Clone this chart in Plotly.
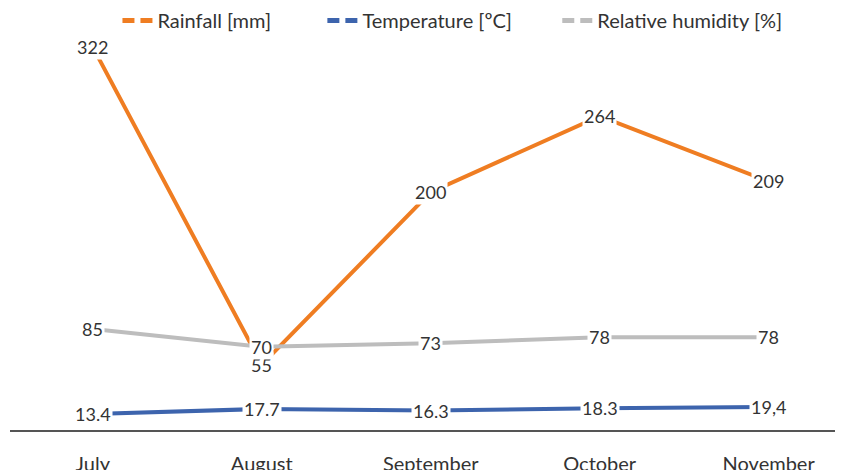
import plotly.graph_objects as go

months = ["July", "August", "September", "October", "November"]
rainfall = [322, 55, 200, 264, 209]
temperature = [13.4, 17.7, 16.3, 18.3, 19.4]
humidity = [85, 70, 73, 78, 78]
temperature_labels = ["13.4", "17.7", "16.3", "18.3", "19,4"]

_COLORS = {
    "rain": "#ef7d22",
    "temp": "#3d64ad",
    "hum": "#bdbdbd",
    "text": "#333333",
    "axis": "#555555",
}
FONT = "Lato"

series = [
    ("Rainfall [mm]", rainfall, [str(v) for v in rainfall], _COLORS["rain"]),
    ("Temperature [ºC]", temperature, temperature_labels, _COLORS["temp"]),
    ("Relative humidity [%]", humidity, [str(v) for v in humidity], _COLORS["hum"]),
]
# one legend box per series so each entry sits where the original has it
legend_ids = ["legend", "legend2", "legend3"]
legend_x = [0.129, 0.375, 0.657]

fig = go.Figure()

# solid lines on the chart
for name, values, labels, color in series:
    fig.add_trace(go.Scatter(
        x=months, y=values, mode="lines", name=name,
        line=dict(color=color, width=4), showlegend=False,
    ))
# legend shows dashed samples
for (name, values, labels, color), lid in zip(series, legend_ids):
    fig.add_trace(go.Scatter(
        x=[months[0]], y=[None], mode="lines", name=name, legend=lid,
        line=dict(color=color, width=5, dash="12px,6px"),
    ))

# data labels on white boxes, so the line breaks around them
for name, values, labels, color in series:
    for m, v, t in zip(months, values, labels):
        fig.add_annotation(
            x=m, y=v, text=t, showarrow=False,
            font=dict(family=FONT, size=18, color=_COLORS["text"]),
            bgcolor="white", borderpad=1,
        )

# page body adds an 8px offset, margins account for it
fig.update_layout(
    width=835, height=470,
    margin=dict(l=2, r=0, t=32, b=48, autoexpand=False),
    paper_bgcolor="white", plot_bgcolor="white",
    font=dict(family=FONT, size=18, color=_COLORS["text"]),
    xaxis=dict(
        type="category", range=[-0.49, 4.44],
        showgrid=False, zeroline=False,
        showline=True, linecolor=_COLORS["axis"], linewidth=1.5,
        ticks="", ticklabelstandoff=15,
        tickfont=dict(size=20),
    ),
    yaxis=dict(
        range=[0, 328], visible=False, showgrid=False, zeroline=False,
    ),
)
for lid, lx in zip(legend_ids, legend_x):
    fig.update_layout({lid: dict(
        orientation="h", x=lx, xanchor="left", y=1.0, yanchor="bottom",
        font=dict(size=20), bgcolor="rgba(0,0,0,0)",
    )})

fig.write_html("out.html")
